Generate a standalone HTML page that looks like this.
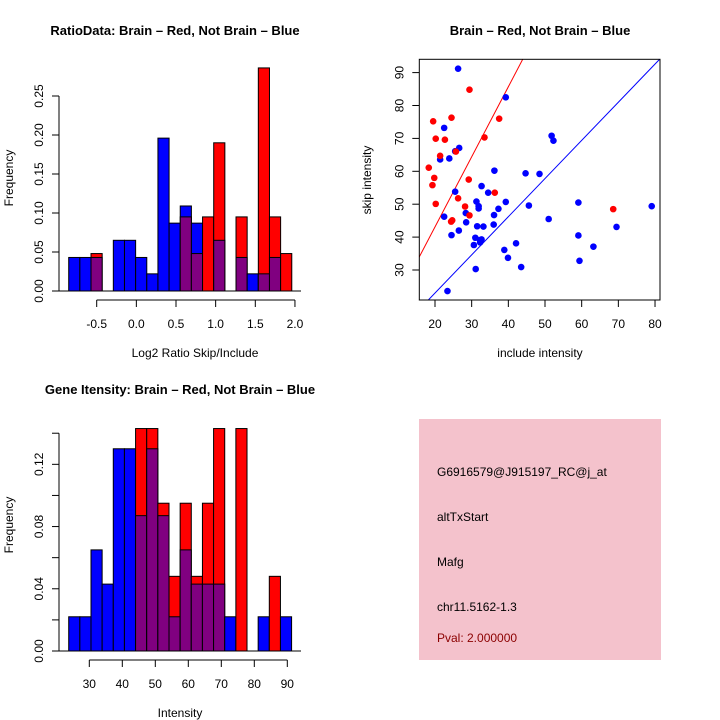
<!DOCTYPE html>
<html><head><meta charset="utf-8"><style>
html,body{margin:0;padding:0;background:#fff;}
svg{display:block;font-family:"Liberation Sans",Arial,sans-serif;}
</style></head><body>
<svg id="chart" width="720" height="720" viewBox="0 0 720 720" xmlns="http://www.w3.org/2000/svg">
<rect width="720" height="720" fill="#fff"/>
<g id="p1"></g>
<g id="p2"></g>
<g id="p3"></g>
<g id="p4">
<rect x="419" y="419" width="242" height="241" fill="#f4c2cc"/>
<text x="437" y="476" font-size="12">G6916579@J915197_RC@j_at</text>
<text x="437" y="521" font-size="12">altTxStart</text>
<text x="437" y="566" font-size="12">Mafg</text>
<text x="437" y="611" font-size="12">chr11.5162-1.3</text>
<text x="437" y="642" font-size="12" fill="#8b0000">Pval: 2.000000</text>
</g>
</svg>
<script>
// ---- Plot 1 data ----
const ratioBinStart = -0.853;
const ratioBinEnd = 1.96;
const ratioBlue = [0.043,0.043,0.043,0,0.065,0.065,0.043,0.022,0.196,0.087,0.109,0.087,0,0.065,0,0.043,0.022,0.022,0.043,0];
const ratioRed  = [0,0,0.048,0,0,0,0,0,0,0,0.095,0.048,0.095,0.190,0,0.095,0,0.286,0.095,0.048];
const ratioXTicks = [-0.5,0,0.5,1,1.5,2];
const ratioXLabels = ["-0.5","0.0","0.5","1.0","1.5","2.0"];
const ratioYTicks = [0,0.05,0.10,0.15,0.20,0.25];
const ratioYLabels = ["0.00","0.05","0.10","0.15","0.20","0.25"];
// ---- Plot 2 data ----
const redX = [19.5,24.5,29.4,37.5,20.2,22.7,21.4,25.7,33.5,18.3,19.8,19.3,29.2,26.3,20.2,28.2,29.4,24.4,24.7,36.3,68.6];
const redY = [75.2,76.3,84.8,76,69.9,69.6,64.7,66,70.3,61.1,58,55.8,57.5,51.8,50.1,49.3,46.6,44.7,45.1,53.5,48.5];
const blueX = [26.3,39.3,22.5,25.5,26.6,21.4,23.9,51.8,52.3,36.2,44.7,48.5,25.5,32.7,34.5,31.3,39.3,31.9,31.9,37.3,45.6,79.1,59.1,22.5,28.4,36.1,51,28.5,36,31.5,33.2,24.5,26.5,31,32.3,32.7,32.3,30.6,42.1,38.9,39.9,43.5,31.1,23.4,59.1,63.2,59.4,69.5];
const blueY = [91.2,82.5,73.2,66.1,67.1,63.6,63.9,70.8,69.3,60.2,59.4,59.2,53.8,55.5,53.5,50.8,50.7,49.4,48.7,48.6,49.6,49.4,50.5,46.2,47.3,46.7,45.5,44.5,43.8,43.3,43.2,40.6,42,39.8,39.1,39.3,38.4,37.6,38.1,36.1,33.7,30.9,30.3,23.6,40.5,37.1,32.8,43.1];
const redLine = [0.5, 2.13];   // intercept, slope
const blueLine = [-0.2, 1.16];
const scatXTicks = [20,30,40,50,60,70,80];
const scatYTicks = [30,40,50,60,70,80,90];
// ---- Plot 3 data ----
const intBinStart = 23.76;
const intBinEnd = 91.3;
const intBlue = [0.022,0.022,0.065,0.043,0.130,0.130,0.087,0.130,0.087,0.022,0.065,0.043,0.043,0.043,0.022,0,0,0.022,0,0.022];
const intRed  = [0,0,0,0,0,0,0.143,0.143,0.095,0.048,0.095,0.048,0.095,0.143,0,0.143,0,0,0.048,0];
const intXTicks = [30,40,50,60,70,80,90];
const intYTicks = [0,0.02,0.04,0.06,0.08,0.10,0.12,0.14];
const intYLabels = ["0.00","","0.04","","0.08","","0.12",""];

const NS="http://www.w3.org/2000/svg";
function mk(parent,tag,attrs,txt){const e=document.createElementNS(NS,tag);for(const k in attrs)e.setAttribute(k,attrs[k]);if(txt!==undefined)e.textContent=txt;parent.appendChild(e);return e;}

function histogram(g, start, end, blue, red, sx, sy, y0){
  const n=blue.length, w=(end-start)/n;
  for(let i=0;i<n;i++){
    const a=start+i*w, b=a+w;
    const hi=Math.max(blue[i],red[i]), lo=Math.min(blue[i],red[i]);
    if(hi<=0) continue;
    const col = red[i]>=blue[i] ? "#ff0000" : "#0000ff";
    const r=mk(g,"rect",{x:sx(a),y:sy(hi),width:sx(b)-sx(a),height:y0-sy(hi),fill:col,stroke:"#000","stroke-width":1});
    
    
    if(lo>0){
      const p=mk(g,"rect",{x:sx(a),y:sy(lo),width:sx(b)-sx(a),height:y0-sy(lo),fill:"#800080",stroke:"#000","stroke-width":1});
      
      
    }
  }
}
function yAxis(g,x,ticks,labels,sy){
  const l=mk(g,"line",{x1:x,x2:x,y1:sy(ticks[0]),y2:sy(ticks[ticks.length-1]),stroke:"#000"});
  
  
  ticks.forEach((t,i)=>{
    mk(g,"line",{x1:x-7,x2:x,y1:sy(t),y2:sy(t),stroke:"#000"});
    if(labels[i]!==""){
      const tx=mk(g,"text",{x:x-16,y:sy(t),"font-size":12,"text-anchor":"middle",transform:`rotate(-90 ${x-16} ${sy(t)})`},labels[i]);
      
      
    }
  });
}
function xAxis(g,y,ticks,labels,sx){
  const l=mk(g,"line",{x1:sx(ticks[0]),x2:sx(ticks[ticks.length-1]),y1:y,y2:y,stroke:"#000"});
  
  
  ticks.forEach((t,i)=>{
    mk(g,"line",{x1:sx(t),x2:sx(t),y1:y,y2:y+7,stroke:"#000"});
    const tx=mk(g,"text",{x:sx(t),y:y+28,"font-size":12,"text-anchor":"middle"},labels[i]);
    
    
  });
}
function label(g,x,y,txt,name,opts){
  const t=mk(g,"text",Object.assign({x:x,y:y,"font-size":12,"text-anchor":"middle"},opts||{}),txt);
  
  
}

// Plot 1
(function(){
  const g=document.getElementById("p1");
  const sx=v=>96.7+(v+0.5)*79.3, sy=v=>291-v*780;
  histogram(g,ratioBinStart,ratioBinEnd,ratioBlue,ratioRed,sx,sy,291);
  mk(g,"line",{x1:52,x2:301,y1:291,y2:291,stroke:"#000"});
  yAxis(g,59,ratioYTicks,ratioYLabels,sy);
  xAxis(g,300,ratioXTicks,ratioXLabels,sx);
  label(g,175,35,"RatioData: Brain \u2013 Red, Not Brain \u2013 Blue","title-1",{"font-weight":"bold","font-size":13});
  label(g,195,357,"Log2 Ratio Skip/Include","x-axis-title-1");
  label(g,13,178,"Frequency","y-axis-title-1",{transform:"rotate(-90 13 178)"});
})();

// Plot 2
(function(){
  const g=document.getElementById("p2");
  const sx=v=>435+(v-20)*3.667, sy=v=>270-(v-30)*3.29;
  const L=419.3,R=660,T=59.3,B=300;
  const cp=mk(g,"clipPath",{id:"clip2"});mk(cp,"rect",{x:L,y:T,width:R-L,height:B-T});
  function line(c,col,name){
    const x1=15, x2=85;
    const l=mk(g,"line",{x1:sx(x1),y1:sy(c[0]+c[1]*x1),x2:sx(x2),y2:sy(c[0]+c[1]*x2),stroke:col,"clip-path":"url(#clip2)"});
    
    
  }
  line(redLine,"#ff0000","red-fit-line");
  line(blueLine,"#0000ff","blue-fit-line");
  blueX.forEach((x,i)=>{const c=mk(g,"circle",{cx:sx(x),cy:sy(blueY[i]),r:3.3,fill:"#0000ff"});
    
    });
  redX.forEach((x,i)=>{const c=mk(g,"circle",{cx:sx(x),cy:sy(redY[i]),r:3.3,fill:"#ff0000"});
    
    });
  const box=mk(g,"rect",{x:L,y:T,width:R-L,height:B-T,fill:"none",stroke:"#000"});
  
  
  scatXTicks.forEach(t=>{mk(g,"line",{x1:sx(t),x2:sx(t),y1:B,y2:B+7,stroke:"#000"});
    label(g,sx(t),B+28,String(t),"x-tick-label");});
  scatYTicks.forEach(t=>{mk(g,"line",{x1:L-7,x2:L,y1:sy(t),y2:sy(t),stroke:"#000"});
    label(g,L-16,sy(t),String(t),"y-tick-label",{transform:`rotate(-90 ${L-16} ${sy(t)})`});});
  label(g,540,35,"Brain \u2013 Red, Not Brain \u2013 Blue","title-2",{"font-weight":"bold","font-size":13});
  label(g,540,357,"include intensity","x-axis-title-2");
  label(g,371,180,"skip intensity","y-axis-title-2",{transform:"rotate(-90 371 180)"});
})();

// Plot 3
(function(){
  const g=document.getElementById("p3");
  const sx=v=>89.3+(v-30)*3.3, sy=v=>651-v*1555.6;
  histogram(g,intBinStart,intBinEnd,intBlue,intRed,sx,sy,651);
  mk(g,"line",{x1:52,x2:301,y1:651,y2:651,stroke:"#000"});
  yAxis(g,59,intYTicks,intYLabels,sy);
  xAxis(g,660,intXTicks,intXTicks.map(String),sx);
  label(g,180,394,"Gene Itensity: Brain \u2013 Red, Not Brain \u2013 Blue","title-3",{"font-weight":"bold","font-size":13});
  label(g,180,717,"Intensity","x-axis-title-3");
  label(g,13,525,"Frequency","y-axis-title-3",{transform:"rotate(-90 13 525)"});
})();
</script>
</body></html>
